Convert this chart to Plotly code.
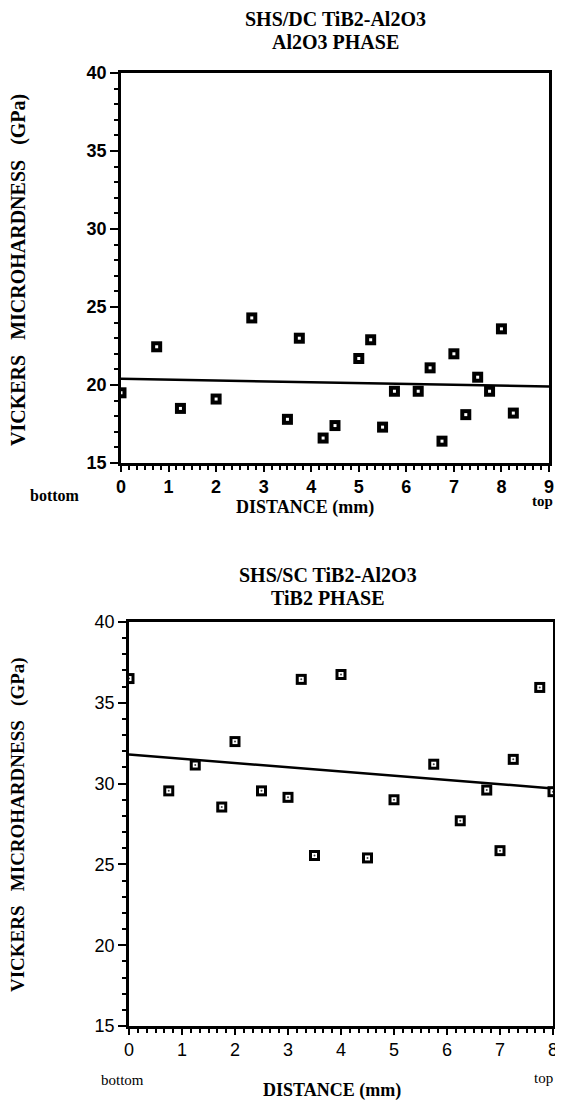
import plotly.graph_objects as go

# page body has an 8px margin; the figure is sized/offset to compensate
OFF = 8
W, H = 555, 1100

# ---- Top chart: SHS/DC TiB2-Al2O3, Al2O3 phase ----
dc_distance = [0, 0.75, 1.25, 2.0, 2.75, 3.5, 3.75, 4.25, 4.5, 5.0, 5.25,
               5.5, 5.75, 6.25, 6.5, 6.75, 7.0, 7.25, 7.5, 7.75, 8.0, 8.25]
dc_hardness = [19.5, 22.45, 18.5, 19.1, 24.3, 17.8, 23.0, 16.6, 17.4, 21.7, 22.9,
               17.3, 19.6, 19.6, 21.1, 16.4, 22.0, 18.1, 20.5, 19.6, 23.6, 18.2]
dc_fit_x = [0, 9]
dc_fit_y = [20.4, 19.9]

# ---- Bottom chart: SHS/SC TiB2-Al2O3, TiB2 phase ----
sc_distance = [0, 0.75, 1.25, 1.75, 2.0, 2.5, 3.0, 3.25, 3.5, 4.0,
               4.5, 5.0, 5.75, 6.25, 6.75, 7.0, 7.25, 7.75, 8.0]
sc_hardness = [36.5, 29.55, 31.15, 28.55, 32.6, 29.55, 29.15, 36.45, 25.55, 36.75,
               25.4, 29.0, 31.2, 27.7, 29.6, 25.85, 31.5, 35.95, 29.5]
sc_fit_x = [0, 8]
sc_fit_y = [31.8, 29.7]

y_ticks = [15, 20, 25, 30, 35, 40]

SERIF = "Liberation Serif, Times New Roman, serif"
SANS = "Liberation Sans, Arial, sans-serif"


def px(x):
    return (x - OFF) / W


def py(y):
    return 1 - (y - OFF) / H


fig = go.Figure()

# top chart traces
fig.add_trace(go.Scatter(x=dc_fit_x, y=dc_fit_y, mode="lines",
                         line=dict(color="black", width=2.5),
                         xaxis="x", yaxis="y", showlegend=False))
fig.add_trace(go.Scatter(x=dc_distance, y=dc_hardness, mode="markers",
                         marker=dict(symbol="square", size=11, color="black"),
                         xaxis="x", yaxis="y", showlegend=False))
fig.add_trace(go.Scatter(x=dc_distance, y=dc_hardness, mode="markers",
                         marker=dict(symbol="square", size=3, color="white"),
                         xaxis="x", yaxis="y", showlegend=False))

# bottom chart traces
fig.add_trace(go.Scatter(x=sc_fit_x, y=sc_fit_y, mode="lines",
                         line=dict(color="black", width=2.5),
                         xaxis="x2", yaxis="y2", showlegend=False))
fig.add_trace(go.Scatter(x=sc_distance, y=sc_hardness, mode="markers",
                         marker=dict(symbol="square", size=11, color="black"),
                         xaxis="x2", yaxis="y2", showlegend=False))
fig.add_trace(go.Scatter(x=sc_distance, y=sc_hardness, mode="markers",
                         marker=dict(symbol="square", size=5, color="white"),
                         xaxis="x2", yaxis="y2", showlegend=False))
fig.add_trace(go.Scatter(x=sc_distance, y=sc_hardness, mode="markers",
                         marker=dict(symbol="circle", size=2, color="#444"),
                         xaxis="x2", yaxis="y2", showlegend=False))


def xaxis_style(domain, rng, anchor, bold):
    return dict(domain=domain, range=rng, anchor=anchor, automargin=False,
                showline=True, linecolor="black", linewidth=2.5, mirror=True,
                ticks="outside", ticklen=6, tickwidth=2, tickcolor="black",
                dtick=1, tick0=0,
                minor=dict(dtick=1 / 6, ticks="outside", ticklen=4,
                           tickwidth=1.5, tickcolor="black", showgrid=False),
                showgrid=False, zeroline=False,
                tickfont=dict(family=SANS, size=18, color="black",
                              weight="bold" if bold else "normal"))


def yaxis_style(domain, anchor, bold):
    return dict(domain=domain, range=[15, 40], anchor=anchor, automargin=False,
                showline=True, linecolor="black", linewidth=2.5, mirror=True,
                ticks="outside", ticklen=8, tickwidth=2, tickcolor="black",
                tickvals=y_ticks,
                minor=dict(dtick=1, tick0=15, ticks="outside", ticklen=4,
                           tickwidth=1.5, tickcolor="black", showgrid=False),
                showgrid=False, zeroline=False,
                tickfont=dict(family=SANS, size=18, color="black",
                              weight="bold" if bold else "normal"))


top_x = [px(121), px(549)]
top_y = [py(463), py(73)]
bot_x = [px(129), px(553)]
bot_y = [py(1026), py(622)]

annotations = []


def add_text(text, x, y, size, family=SERIF, bold=True, angle=0, xanchor="center"):
    annotations.append(dict(text=text, x=px(x), y=py(y), xref="paper", yref="paper",
                            showarrow=False, xanchor=xanchor, yanchor="middle",
                            textangle=angle,
                            font=dict(family=family, size=size, color="black",
                                      weight="bold" if bold else "normal")))


NB = "\u00a0"
ytitle = "VICKERS" + NB * 3 + "MICROHARDNESS" + NB * 3 + "(GPa)"

# top chart texts
add_text("SHS/DC TiB2-Al2O3", 335, 19, 20)
add_text("Al2O3 PHASE", 335, 42, 20)
add_text(ytitle, 18, 270, 20, angle=-90)
add_text("DISTANCE (mm)", 305, 507, 18)
add_text("bottom", 55, 496, 16)
add_text("top", 555, 501, 15, xanchor="right")

# bottom chart texts
add_text("SHS/SC TiB2-Al2O3", 328, 575, 20)
add_text("TiB2 PHASE", 328, 598, 20)
add_text(ytitle, 18, 825, 19, angle=-90)
add_text("DISTANCE (mm)", 332, 1090, 18)
add_text("bottom", 122, 1080, 15, bold=False)
add_text("top", 555, 1078, 15, bold=False, xanchor="right")

fig.update_layout(
    width=W, height=H,
    margin=dict(l=0, r=0, t=0, b=0, autoexpand=False),
    paper_bgcolor="white", plot_bgcolor="white",
    xaxis=xaxis_style(top_x, [0, 9], "y", True),
    yaxis=yaxis_style(top_y, "x", True),
    xaxis2=xaxis_style(bot_x, [0, 8], "y2", False),
    yaxis2=yaxis_style(bot_y, "x2", False),
    annotations=annotations,
    showlegend=False,
)

fig.write_html("out.html")
